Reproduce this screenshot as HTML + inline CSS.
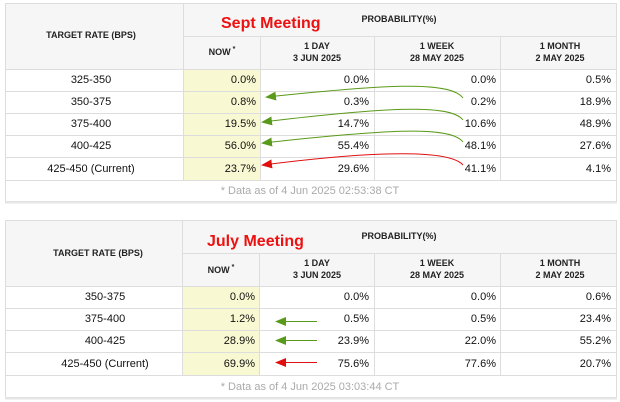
<!DOCTYPE html>
<html><head><meta charset="utf-8"><style>
html,body{margin:0;padding:0;background:#fff;}
svg{display:block;font-family:"Liberation Sans",Arial,sans-serif;}
.h{font-size:9px;font-weight:bold;fill:#222;}
.d{font-size:11px;fill:#111;}
.f{font-size:11px;fill:#aaa;}
.t{font-size:16px;font-weight:bold;fill:#ee1111;}
</style></head><body>
<svg width="620" height="402" viewBox="0 0 620 402">
<defs>
<marker id="g" markerWidth="11" markerHeight="9" refX="9" refY="4.5" orient="auto" markerUnits="userSpaceOnUse"><path d="M0,0 L11,4.5 L0,9 Z" fill="#5a9a1a"/></marker>
<marker id="r" markerWidth="11" markerHeight="9" refX="9" refY="4.5" orient="auto" markerUnits="userSpaceOnUse"><path d="M0,0 L11,4.5 L0,9 Z" fill="#e01010"/></marker>
</defs>
<!-- Table 1 -->
<rect x="5.5" y="3.5" width="611" height="198" fill="#fff" stroke="#ddd"/>
<line x1="5" y1="202.5" x2="617" y2="202.5" stroke="#e6e6e6" stroke-width="2"/>
<rect x="6" y="4" width="610" height="65" fill="#f6f6f6"/>
<rect x="184" y="69" width="77" height="111" fill="#f8f8d2"/>
<g stroke="#ddd" stroke-width="1">
<line x1="5" y1="69.5" x2="616" y2="69.5"/>
<line x1="184" y1="36.5" x2="616" y2="36.5"/>
<line x1="5" y1="91.5" x2="616" y2="91.5"/>
<line x1="5" y1="113.5" x2="616" y2="113.5"/>
<line x1="5" y1="135.5" x2="616" y2="135.5"/>
<line x1="5" y1="157.5" x2="616" y2="157.5"/>
<line x1="5" y1="180.5" x2="616" y2="180.5"/>
<line x1="183.5" y1="3" x2="183.5" y2="180"/>
<line x1="260.5" y1="36" x2="260.5" y2="180"/>
<line x1="374.5" y1="36" x2="374.5" y2="180"/>
<line x1="500.5" y1="36" x2="500.5" y2="180"/>
</g>
<text class="h" x="91" y="38" text-anchor="middle">TARGET RATE (BPS)</text>
<text class="t" x="221" y="28">Sept Meeting</text>
<text class="h" x="399" y="22" text-anchor="middle">PROBABILITY(%)</text>
<text class="h" x="222" y="55" text-anchor="middle">NOW<tspan font-size="7" dy="-4"> *</tspan></text>
<text class="h" x="317" y="49" text-anchor="middle">1 DAY</text>
<text class="h" x="317" y="61" text-anchor="middle">3 JUN 2025</text>
<text class="h" x="437" y="49" text-anchor="middle">1 WEEK</text>
<text class="h" x="437" y="61" text-anchor="middle">28 MAY 2025</text>
<text class="h" x="560" y="49" text-anchor="middle">1 MONTH</text>
<text class="h" x="560" y="61" text-anchor="middle">2 MAY 2025</text>
<g class="d">
<text x="91" y="83" text-anchor="middle">325-350</text>
<text x="91" y="105" text-anchor="middle">350-375</text>
<text x="91" y="127" text-anchor="middle">375-400</text>
<text x="91" y="149" text-anchor="middle">400-425</text>
<text x="91" y="172" text-anchor="middle">425-450 (Current)</text>
<g text-anchor="end">
<text x="256" y="83">0.0%</text><text x="369" y="83">0.0%</text><text x="496" y="83">0.0%</text><text x="611" y="83">0.5%</text>
<text x="256" y="105">0.8%</text><text x="369" y="105">0.3%</text><text x="496" y="105">0.2%</text><text x="611" y="105">18.9%</text>
<text x="256" y="127">19.5%</text><text x="369" y="127">14.7%</text><text x="496" y="127">10.6%</text><text x="611" y="127">48.9%</text>
<text x="256" y="149">56.0%</text><text x="369" y="149">55.4%</text><text x="496" y="149">48.1%</text><text x="611" y="149">27.6%</text>
<text x="256" y="172">23.7%</text><text x="369" y="172">29.6%</text><text x="496" y="172">41.1%</text><text x="611" y="172">4.1%</text>
</g></g>
<g fill="none" stroke-width="1">
<path d="M463,98 C450,80 380,85 267,97" stroke="#5a9a1a" marker-end="url(#g)"/>
<path d="M463,120 C450,103 380,108 263,122" stroke="#5a9a1a" marker-end="url(#g)"/>
<path d="M463,142 C450,125 380,130 263,143" stroke="#5a9a1a" marker-end="url(#g)"/>
<path d="M463,165 C450,150 380,150 263,165" stroke="#e01010" marker-end="url(#r)"/>
</g>
<text class="f" x="310" y="194" text-anchor="middle">* Data as of 4 Jun 2025 02:53:38 CT</text>

<!-- Table 2 -->
<rect x="5.5" y="220.5" width="611" height="177" fill="#fff" stroke="#ddd"/>
<line x1="5" y1="398.5" x2="617" y2="398.5" stroke="#e6e6e6" stroke-width="2"/>
<rect x="6" y="221" width="610" height="65" fill="#f6f6f6"/>
<rect x="183" y="286" width="77" height="89" fill="#f8f8d2"/>
<g stroke="#ddd" stroke-width="1">
<line x1="5" y1="286.5" x2="616" y2="286.5"/>
<line x1="183" y1="253.5" x2="616" y2="253.5"/>
<line x1="5" y1="308.5" x2="616" y2="308.5"/>
<line x1="5" y1="330.5" x2="616" y2="330.5"/>
<line x1="5" y1="352.5" x2="616" y2="352.5"/>
<line x1="5" y1="375.5" x2="616" y2="375.5"/>
<line x1="182.5" y1="220" x2="182.5" y2="375"/>
<line x1="259.5" y1="253" x2="259.5" y2="375"/>
<line x1="374.5" y1="253" x2="374.5" y2="375"/>
<line x1="500.5" y1="253" x2="500.5" y2="375"/>
</g>
<text class="h" x="98" y="256" text-anchor="middle">TARGET RATE (BPS)</text>
<text class="t" x="207" y="246">July Meeting</text>
<text class="h" x="399" y="239" text-anchor="middle">PROBABILITY(%)</text>
<text class="h" x="221" y="273" text-anchor="middle">NOW<tspan font-size="7" dy="-4"> *</tspan></text>
<text class="h" x="317" y="266" text-anchor="middle">1 DAY</text>
<text class="h" x="317" y="278" text-anchor="middle">3 JUN 2025</text>
<text class="h" x="437" y="266" text-anchor="middle">1 WEEK</text>
<text class="h" x="437" y="278" text-anchor="middle">28 MAY 2025</text>
<text class="h" x="560" y="266" text-anchor="middle">1 MONTH</text>
<text class="h" x="560" y="278" text-anchor="middle">2 MAY 2025</text>
<g class="d">
<text x="105" y="300" text-anchor="middle">350-375</text>
<text x="105" y="322" text-anchor="middle">375-400</text>
<text x="105" y="344" text-anchor="middle">400-425</text>
<text x="105" y="367" text-anchor="middle">425-450 (Current)</text>
<g text-anchor="end">
<text x="255" y="300">0.0%</text><text x="369" y="300">0.0%</text><text x="496" y="300">0.0%</text><text x="611" y="300">0.6%</text>
<text x="255" y="322">1.2%</text><text x="369" y="322">0.5%</text><text x="496" y="322">0.5%</text><text x="611" y="322">23.4%</text>
<text x="255" y="344">28.9%</text><text x="369" y="344">23.9%</text><text x="496" y="344">22.0%</text><text x="611" y="344">55.2%</text>
<text x="255" y="367">69.9%</text><text x="369" y="367">75.6%</text><text x="496" y="367">77.6%</text><text x="611" y="367">20.7%</text>
</g></g>
<g fill="none" stroke-width="1">
<line x1="317" y1="321.5" x2="277" y2="321.5" stroke="#5a9a1a" marker-end="url(#g)"/>
<line x1="317" y1="340.5" x2="277" y2="340.5" stroke="#5a9a1a" marker-end="url(#g)"/>
<line x1="317" y1="362.5" x2="277" y2="362.5" stroke="#e01010" marker-end="url(#r)"/>
</g>
<text class="f" x="310" y="390" text-anchor="middle">* Data as of 4 Jun 2025 03:03:44 CT</text>
</svg>
</body></html>
